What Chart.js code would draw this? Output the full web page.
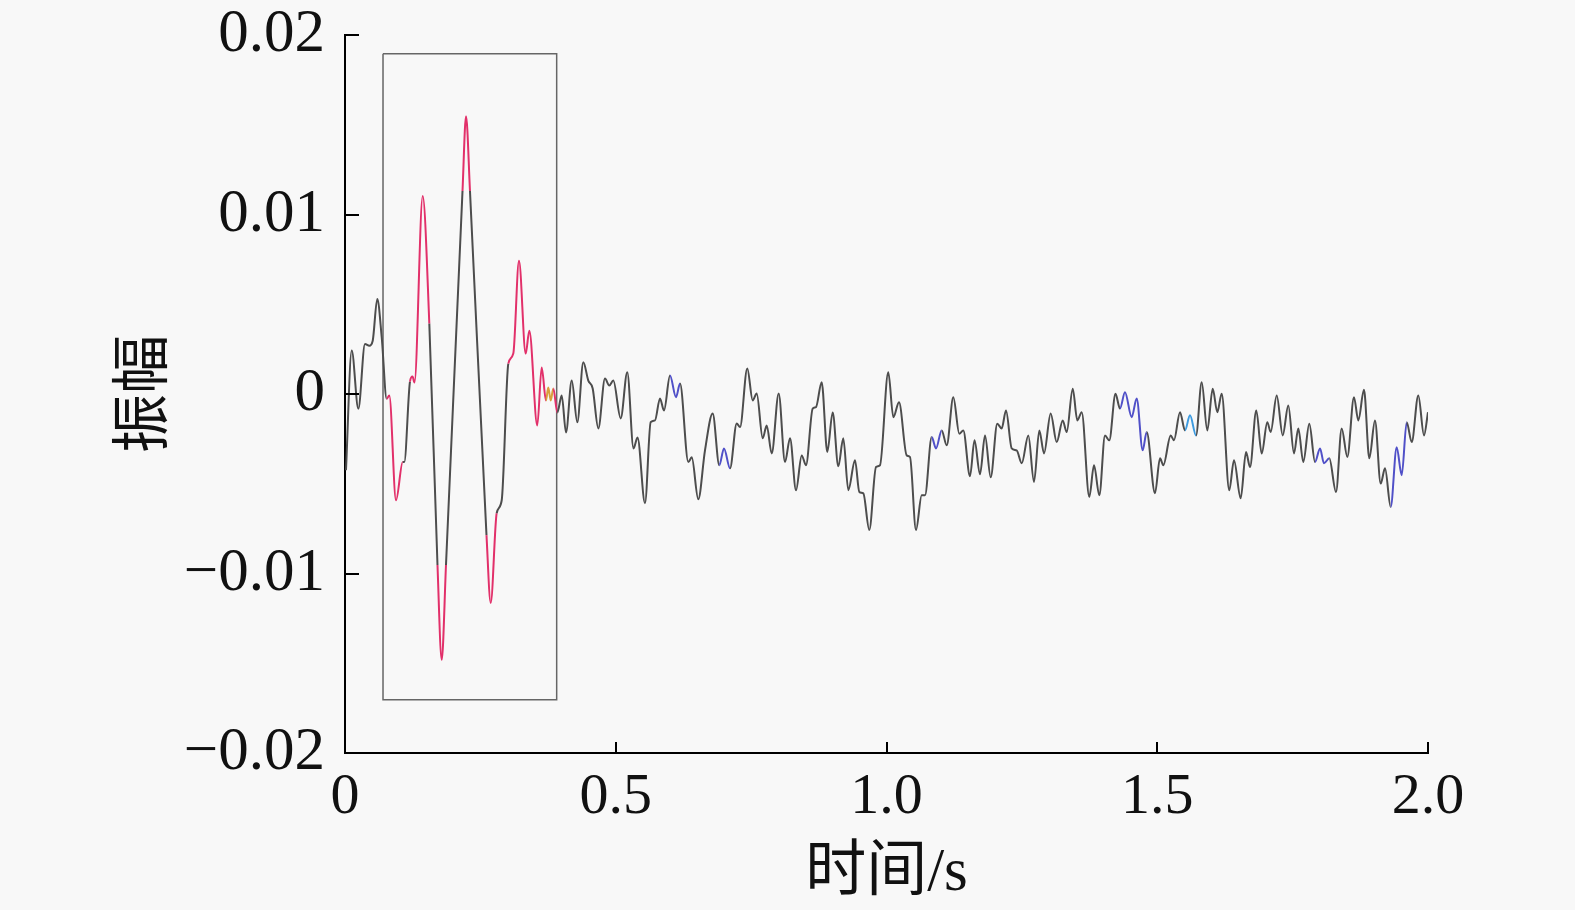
<!DOCTYPE html>
<html>
<head>
<meta charset="utf-8">
<script src="https://cdn.jsdelivr.net/npm/chart.js@4/dist/chart.umd.min.js"></script>
<style>
  html, body { margin: 0; padding: 0; background: #f8f8f8; }
  canvas { display: block; background: #f8f8f8; }
</style>
</head>
<body>
<canvas id="c" width="1575" height="910"></canvas>
<script>
// ---- data (time in s, amplitude) ----
const times = [
  0.0018, 0.0124, 0.0246, 0.0369, 0.0449, 0.0512, 0.0596, 0.0678, 0.0770, 0.0818,
  0.0942, 0.1066, 0.1095, 0.1200, 0.1247, 0.1283, 0.1435, 0.1557, 0.1708, 0.1786,
  0.1865, 0.2170, 0.2235, 0.2308, 0.2613, 0.2691, 0.2801, 0.2894, 0.3016, 0.3108,
  0.3213, 0.3337, 0.3404, 0.3551, 0.3632, 0.3712, 0.3754, 0.3799, 0.3847, 0.3921,
  0.4002, 0.4081, 0.4187, 0.4290, 0.4401, 0.4493, 0.4574, 0.4678, 0.4801, 0.4881,
  0.4955, 0.5091, 0.5213, 0.5328, 0.5402, 0.5540, 0.5645, 0.5725, 0.5817, 0.5891,
  0.6002, 0.6113, 0.6187, 0.6340, 0.6403, 0.6524, 0.6648, 0.6790, 0.6912, 0.6999,
  0.7110, 0.7234, 0.7295, 0.7429, 0.7529, 0.7603, 0.7714, 0.7788, 0.7880, 0.8009,
  0.8126, 0.8218, 0.8329, 0.8434, 0.8513, 0.8637, 0.8698, 0.8803, 0.8907, 0.9006,
  0.9110, 0.9202, 0.9295, 0.9418, 0.9498, 0.9572, 0.9682, 0.9806, 0.9880, 1.0033,
  1.0126, 1.0231, 1.0373, 1.0434, 1.0545, 1.0650, 1.0711, 1.0835, 1.0914, 1.1019,
  1.1112, 1.1234, 1.1344, 1.1418, 1.1542, 1.1625, 1.1727, 1.1819, 1.1924, 1.2046,
  1.2127, 1.2207, 1.2312, 1.2404, 1.2497, 1.2619, 1.2724, 1.2822, 1.2909, 1.3032,
  1.3143, 1.3254, 1.3328, 1.3439, 1.3524, 1.3605, 1.3745, 1.3832, 1.3930, 1.4035,
  1.4114, 1.4229, 1.4312, 1.4404, 1.4528, 1.4620, 1.4731, 1.4805, 1.4958, 1.5051,
  1.5112, 1.5248, 1.5309, 1.5420, 1.5512, 1.5605, 1.5716, 1.5821, 1.5924, 1.6024,
  1.6109, 1.6190, 1.6330, 1.6417, 1.6541, 1.6639, 1.6713, 1.6829, 1.6929, 1.7032,
  1.7095, 1.7206, 1.7317, 1.7420, 1.7525, 1.7605, 1.7697, 1.7808, 1.7913, 1.8006,
  1.8079, 1.8177, 1.8301, 1.8406, 1.8510, 1.8633, 1.8713, 1.8818, 1.8916, 1.9021,
  1.9126, 1.9206, 1.9311, 1.9422, 1.9514, 1.9607, 1.9699, 1.9821, 1.9926, 2.0000
];
const amplitude = [
  -0.00425, 0.00242, -0.00082, 0.00279, 0.00269, 0.00297, 0.00529, 0.00316, -0.00027, -0.00008,
  -0.00592, -0.00379, -0.00379, 0.00069, 0.00097, 0.00064, 0.01103, 0.00392, -0.00953, -0.01481,
  -0.00953, 0.01131, 0.01547, 0.01131, -0.00786, -0.01164, -0.00664, -0.00592, 0.00169, 0.00225,
  0.00742, 0.00225, 0.00353, -0.00175, 0.00147, -0.00036, 0.00036, -0.00036, 0.00031, -0.00103,
  -0.00008, -0.00214, 0.00075, -0.00157, 0.00177, 0.00075, 0.00031, -0.00192, 0.00086, 0.00047,
  0.00075, -0.00136, 0.00121, -0.00303, -0.00242, -0.00608, -0.00157, -0.00147, -0.00025, -0.00092,
  0.00103, -0.00018, 0.00058, -0.00379, -0.00353, -0.00586, -0.00314, -0.00108, -0.00397, -0.00303,
  -0.00414, -0.00164, -0.00184, 0.00142, -0.00036, 0.00003, -0.00247, -0.00175, -0.00331, 0.00003,
  -0.00379, -0.00247, -0.00536, -0.00342, -0.00397, -0.00081, -0.00073, 0.00066, -0.00323, -0.00103,
  -0.00403, -0.00247, -0.00536, -0.00369, -0.00546, -0.00554, -0.00758, -0.00407, -0.00397, 0.00121,
  -0.00129, -0.00046, -0.00342, -0.00351, -0.00758, -0.00564, -0.00564, -0.00240, -0.00303, -0.00203,
  -0.00286, -0.00018, -0.00221, -0.00203, -0.00458, -0.00258, -0.00447, -0.00231, -0.00464, -0.00166,
  -0.00192, -0.00092, -0.00303, -0.00314, -0.00386, -0.00231, -0.00490, -0.00203, -0.00331, -0.00108,
  -0.00268, -0.00147, -0.00212, 0.00029, -0.00147, -0.00101, -0.00573, -0.00397, -0.00564, -0.00231,
  -0.00258, 0.00001, -0.00081, 0.00010, -0.00129, -0.00025, -0.00314, -0.00212, -0.00553, -0.00358,
  -0.00397, -0.00231, -0.00258, -0.00101, -0.00203, -0.00119, -0.00231, 0.00066, -0.00203, 0.00029,
  -0.00101, 0.00001, -0.00536, -0.00369, -0.00581, -0.00323, -0.00407, -0.00092, -0.00332, -0.00157,
  -0.00212, -0.00008, -0.00231, -0.00064, -0.00331, -0.00192, -0.00379, -0.00166, -0.00379, -0.00303,
  -0.00386, -0.00358, -0.00546, -0.00192, -0.00351, -0.00018, -0.00147, 0.00023, -0.00358, -0.00147,
  -0.00499, -0.00414, -0.00629, -0.00296, -0.00453, -0.00157, -0.00268, -0.00008, -0.00231, -0.00101
];

// highlighted time intervals
const redSpans = [[0.0770, 0.1066], [0.1200, 0.1557], [0.1708, 0.1865], [0.2170, 0.2308],
                  [0.2613, 0.2801], [0.3016, 0.3712], [0.3847, 0.3921]];
const orangeSpans = [[0.3712, 0.3847]];
const blueSpans = [[0.6002, 0.6187], [0.6912, 0.7110], [1.0835, 1.1019], [1.4312, 1.4805],
                   [1.7913, 1.8177], [1.9311, 1.9607]];
const lightBlueSpans = [[1.5512, 1.5716]];

// selection box (time, amplitude corners)
const boxTimes = [0.0702, 0.3909, 0.3909, 0.0702, 0.0702];
const boxAmps  = [0.01896, 0.01896, -0.01703, -0.01703, 0.01896];

// tick labels
const xTickLabels = ['0', '0.5', '1.0', '1.5', '2.0'];
const yTickLabels = ['\u22120.02', '\u22120.01', '0', '0.01', '0.02'];
const xTitle = '时间/s';
const yTitle = '振幅';

// ---- build ----
const signal = times.map((t, i) => ({ x: t, y: amplitude[i] }));
const box = boxTimes.map((t, i) => ({ x: t, y: boxAmps[i] }));

function inSpans(spans, a, b) {
  return spans.some(([s, e]) => a >= s - 1e-6 && b <= e + 1e-6);
}
function segColor(ctx) {
  const a = times[ctx.p0DataIndex], b = times[ctx.p1DataIndex];
  if (inSpans(orangeSpans, a, b)) return '#d9a03c';
  if (inSpans(redSpans, a, b)) return '#e2306a';
  if (inSpans(lightBlueSpans, a, b)) return '#3d9be0';
  if (inSpans(blueSpans, a, b)) return '#5050c8';
  return '#4d4d4d';
}

const serif = "'Liberation Serif', 'Times New Roman', 'Noto Sans CJK SC', serif";

const innerTicks = {
  id: 'innerTicks',
  afterDraw(chart) {
    const { ctx, chartArea: a, scales: { x, y } } = chart;
    ctx.save();
    ctx.strokeStyle = '#000';
    ctx.lineWidth = 2;
    ctx.beginPath();
    y.ticks.forEach(t => {
      const py = Math.round(y.getPixelForValue(t.value));
      ctx.moveTo(a.left, py);
      ctx.lineTo(a.left + 14, py);
    });
    x.ticks.forEach(t => {
      if (Math.abs(t.value) < 1e-9) return;
      const px = Math.round(x.getPixelForValue(t.value));
      ctx.moveTo(px, a.bottom);
      ctx.lineTo(px, a.bottom - 11);
    });
    ctx.stroke();
    ctx.restore();
  }
};

new Chart(document.getElementById('c'), {
  type: 'line',
  data: {
    datasets: [
      {
        data: signal,
        borderWidth: 2,
        borderColor: '#4d4d4d',
        pointRadius: 0,
        cubicInterpolationMode: 'monotone',
        segment: { borderColor: segColor },
        order: 1
      },
      {
        data: box,
        borderWidth: 1.5,
        borderColor: '#666666',
        pointRadius: 0,
        tension: 0,
        order: 2
      }
    ]
  },
  options: {
    responsive: false,
    animation: false,
    devicePixelRatio: 1,
    layout: { autoPadding: false, padding: { top: 35, right: 147, left: 0, bottom: 0 } },
    plugins: { legend: { display: false }, tooltip: { enabled: false } },
    scales: {
      x: {
        type: 'linear',
        min: 0, max: 2,
        grid: { display: false, drawTicks: false },
        border: { display: true, color: '#000', width: 2 },
        ticks: {
          stepSize: 0.5,
          padding: 16,
          color: '#111',
          font: { family: serif, size: 58, lineHeight: 1 },
          maxRotation: 0,
          callback: v => xTickLabels[Math.round(v * 2)]
        },
        title: {
          display: true, text: xTitle, color: '#111',
          font: { family: serif, size: 61, lineHeight: 1 },
          padding: { top: 0, bottom: 6 }
        },
        afterFit: s => { s.height = 157; s.paddingLeft = 0; s.paddingRight = 0; s.paddingTop = 0; s.paddingBottom = 0; }
      },
      y: {
        type: 'linear',
        min: -0.02, max: 0.02,
        grid: { display: false, drawTicks: false },
        border: { display: true, color: '#000', width: 2 },
        ticks: {
          stepSize: 0.01,
          padding: 20,
          color: '#111',
          font: { family: serif, size: 61, lineHeight: 1 },
          callback: v => yTickLabels[Math.round(v * 100) + 2]
        },
        title: {
          display: true, text: yTitle, color: '#111',
          font: { family: serif, size: 59, lineHeight: 1 },
          padding: { top: 117, bottom: 0 }
        },
        afterFit: s => { s.width = 345; s.paddingTop = 0; s.paddingBottom = 0; s.paddingLeft = 0; s.paddingRight = 0; }
      }
    }
  },
  plugins: [innerTicks]
});
</script>
</body>
</html>
